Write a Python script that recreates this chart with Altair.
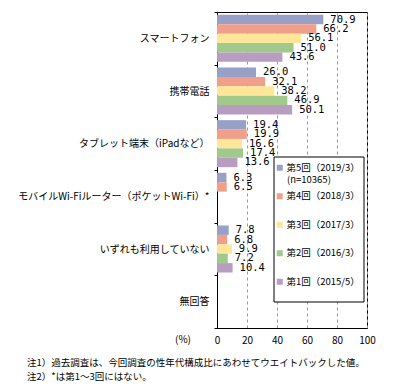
import altair as alt
import pandas as pd

categories = [
    "スマートフォン",
    "携帯電話",
    "タブレット端末（iPadなど）",
    "モバイルWi-Fiルーター（ポケットWi-Fi）*",
    "いずれも利用していない",
    "無回答",
]
series = ["第5回（2019/3）", "第4回（2018/3）", "第3回（2017/3）", "第2回（2016/3）", "第1回（2015/5）"]
colors = ["#99a0c8", "#f0a08a", "#ffe699", "#a2c98c", "#b99dc1"]

v5 = [70.9, 26.0, 19.4, 6.3, 7.8, None]
v4 = [66.2, 32.1, 19.9, 6.5, 6.8, None]
v3 = [56.1, 38.2, 16.6, None, 9.9, None]
v2 = [51.0, 46.9, 17.4, None, 7.2, None]
v1 = [43.6, 50.1, 13.6, None, 10.4, None]

x_ticks = [0, 20, 40, 60, 80, 100]
n_note = "(n=10365)"
unit_label = "(%)"
notes = [
    "注1）過去調査は、今回調査の性年代構成比にあわせてウエイトバックした値。",
    "注2）*は第1～3回にはない。",
]

rows = []
for s, vals in zip(series, [v5, v4, v3, v2, v1]):
    for c, v in zip(categories, vals):
        if v is not None:
            rows.append({"category": c, "series": s, "value": v})
df = pd.DataFrame(rows)

JP = "Noto Sans CJK JP"
W, H = 150, 316

x_axis = alt.Axis(
    title=None, values=x_ticks, tickCount=len(x_ticks) + 4, grid=True, gridDash=[3, 3],
    gridColor="#999999", ticks=False, labelPadding=7, labelFont=JP, labelFontSize=10,
    labelColor="black", domainColor="black", labelOverlap=False, labelFlush=False,
)
x_scale = alt.Scale(domain=[0, 100], nice=False)
y_axis = alt.Axis(
    title=None, tickBand="extent", tickSize=3, labelPadding=5,
    labelFont=JP, labelFontSize=10, labelColor="black",
    domainColor="black", tickColor="black", labelLimit=300,
)
y_scale = alt.Scale(domain=categories, paddingInner=0, paddingOuter=0)
off_scale = alt.Scale(domain=series, paddingInner=0, paddingOuter=0.3)

one = pd.DataFrame({"t": [0]})

# legend frame (white box with black border)
legend_box = alt.Chart(one).mark_rect(
    fill="white", stroke="black", strokeWidth=1
).encode(x=alt.value(57), x2=alt.value(147), y=alt.value(145), y2=alt.value(290))

bars = alt.Chart(df).mark_bar().encode(
    x=alt.X("value:Q", scale=x_scale, axis=x_axis),
    y=alt.Y("category:N", sort=categories, scale=y_scale, axis=y_axis),
    yOffset=alt.YOffset("series:N", sort=series, scale=off_scale),
    color=alt.Color(
        "series:N",
        sort=series,
        scale=alt.Scale(domain=series, range=colors),
        legend=alt.Legend(
            title=None, orient="none", legendX=52, legendY=145,
            padding=6,
            symbolType="square", symbolSize=36, symbolStrokeWidth=0,
            labelFont=JP, labelFontSize=9.5, labelColor="black",
            rowPadding=17.5, labelOffset=2,
        ),
    ),
)

labels = alt.Chart(df).mark_text(
    align="left", baseline="middle", dx=7, font="DejaVu Sans Mono", fontSize=10.5, color="black"
).encode(
    x=alt.X("value:Q", scale=x_scale, axis=x_axis),
    y=alt.Y("category:N", sort=categories, scale=y_scale, axis=y_axis),
    yOffset=alt.YOffset("series:N", sort=series, scale=off_scale),
    text=alt.Text("value:Q", format=".1f"),
)

n_text = alt.Chart(one).mark_text(
    text=n_note, align="left", baseline="middle", font=JP, fontSize=9.5, color="black"
).encode(x=alt.value(70), y=alt.value(168))

unit_text = alt.Chart(one).mark_text(
    text=unit_label, align="left", baseline="middle", font=JP, fontSize=10, color="black"
).encode(x=alt.value(-42), y=alt.value(H + 12))

note1 = alt.Chart(one).mark_text(
    text=notes[0], align="left", baseline="middle", font=JP, fontSize=9.5, color="black"
).encode(x=alt.value(-190), y=alt.value(H + 35))
note2 = alt.Chart(one).mark_text(
    text=notes[1], align="left", baseline="middle", font=JP, fontSize=9.5, color="black"
).encode(x=alt.value(-190), y=alt.value(H + 49))

chart = alt.layer(legend_box, bars, labels, n_text, unit_text, note1, note2).properties(
    width=W, height=H,
    autosize=alt.AutoSizeParams(type="none"),
    padding={"left": 209, "top": 4, "right": 19, "bottom": 55},
).configure_view(stroke="black", strokeWidth=1)

chart.save("out.html", embed_options={"renderer": "svg", "actions": False})
